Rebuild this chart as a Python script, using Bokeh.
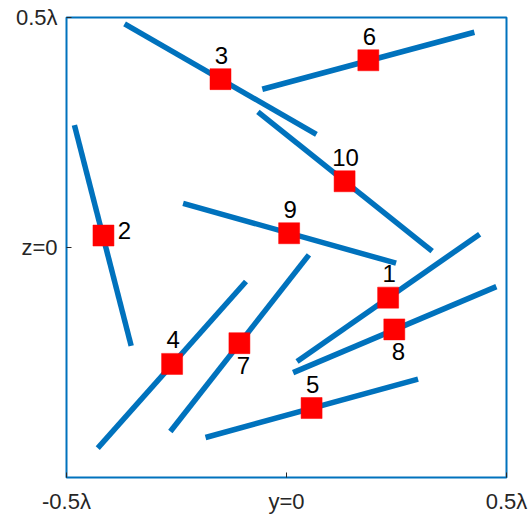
from bokeh.plotting import figure
from bokeh.models import ColumnDataSource, FixedTicker, Range1d
from bokeh.core.properties import value
from bokeh.embed import file_html
from bokeh.resources import INLINE

# Dipole element layout in the y-z plane (units of wavelength)
element_ids = ["1", "2", "3", "4", "5", "6", "7", "8", "9", "10"]
feed_y = [0.231, -0.416, -0.150, -0.260, 0.057, 0.186, -0.107, 0.245, 0.006, 0.132]
feed_z = [-0.109, 0.026, 0.366, -0.253, -0.349, 0.407, -0.208, -0.178, 0.031, 0.144]
end_a_y = [0.024, -0.482, -0.368, -0.429, -0.184, -0.055, -0.264, 0.015, -0.235, -0.065]
end_a_z = [-0.248, 0.266, 0.486, -0.436, -0.413, 0.344, -0.400, -0.272, 0.096, 0.295]
end_b_y = [0.439, -0.353, 0.068, -0.092, 0.299, 0.427, 0.051, 0.477, 0.249, 0.331]
end_b_z = [0.029, -0.214, 0.246, -0.074, -0.286, 0.468, -0.016, -0.085, -0.034, -0.008]
label_side = ["above", "right", "above", "above", "above",
              "above", "below", "below", "above", "above"]

y_ticks = [-0.5, 0.0, 0.5]
y_tick_labels = ["-0.5λ", "y=0", "0.5λ"]
z_ticks = [0.0, 0.5]
z_tick_labels = ["z=0", "0.5λ"]

BLUE = "#0072BD"
TEXT = "#262626"

side_offsets = {"above": (1, -24), "right": (21, -5), "below": (4, 22)}

src = ColumnDataSource(dict(
    y=feed_y, z=feed_z,
    y0=end_a_y, z0=end_a_z, y1=end_b_y, z1=end_b_z,
    label=element_ids,
    dx=[side_offsets[s][0] for s in label_side],
    dy=[side_offsets[s][1] for s in label_side],
))

p = figure(width=531, height=516,
           x_range=Range1d(-0.5, 0.5), y_range=Range1d(-0.5, 0.5),
           output_backend="svg", toolbar_location=None,
           min_border_left=66, min_border_right=25,
           min_border_top=17, min_border_bottom=38)

p.grid.visible = False
p.background_fill_color = "white"
p.border_fill_color = "white"
p.outline_line_color = BLUE
p.outline_line_width = 2

p.xaxis.ticker = FixedTicker(ticks=y_ticks)
p.xaxis.major_label_overrides = {t: s for t, s in zip(y_ticks, y_tick_labels)}
p.yaxis.ticker = FixedTicker(ticks=z_ticks)
p.yaxis.major_label_overrides = {t: s for t, s in zip(z_ticks, z_tick_labels)}

for ax in (p.xaxis, p.yaxis):
    ax.axis_line_color = None
    ax.major_tick_in = 5
    ax.major_tick_out = 0
    ax.minor_tick_in = 0
    ax.minor_tick_out = 0
    ax.major_tick_line_color = TEXT
    ax.major_label_text_color = TEXT
    ax.major_label_text_font = "Liberation Sans"
    ax.major_label_text_font_size = "22px"
p.xaxis.major_label_standoff = 11
p.yaxis.major_label_standoff = 9

# dipole arms
p.segment(x0="y0", y0="z0", x1="y1", y1="z1", source=src,
          line_color=BLUE, line_width=5.5, line_cap="butt")

# feed points
p.scatter(x="y", y="z", source=src, marker="square", size=21,
          fill_color="#FF0000", line_color="#FF0000", line_width=0.5)

# element numbers
p.text(x="y", y="z", text="label", source=src,
       x_offset="dx", y_offset="dy",
       text_font=value("Liberation Sans"), text_font_size="24px",
       text_color="black", text_align="center", text_baseline="middle")

open("out.html", "w").write(file_html(p, INLINE))
